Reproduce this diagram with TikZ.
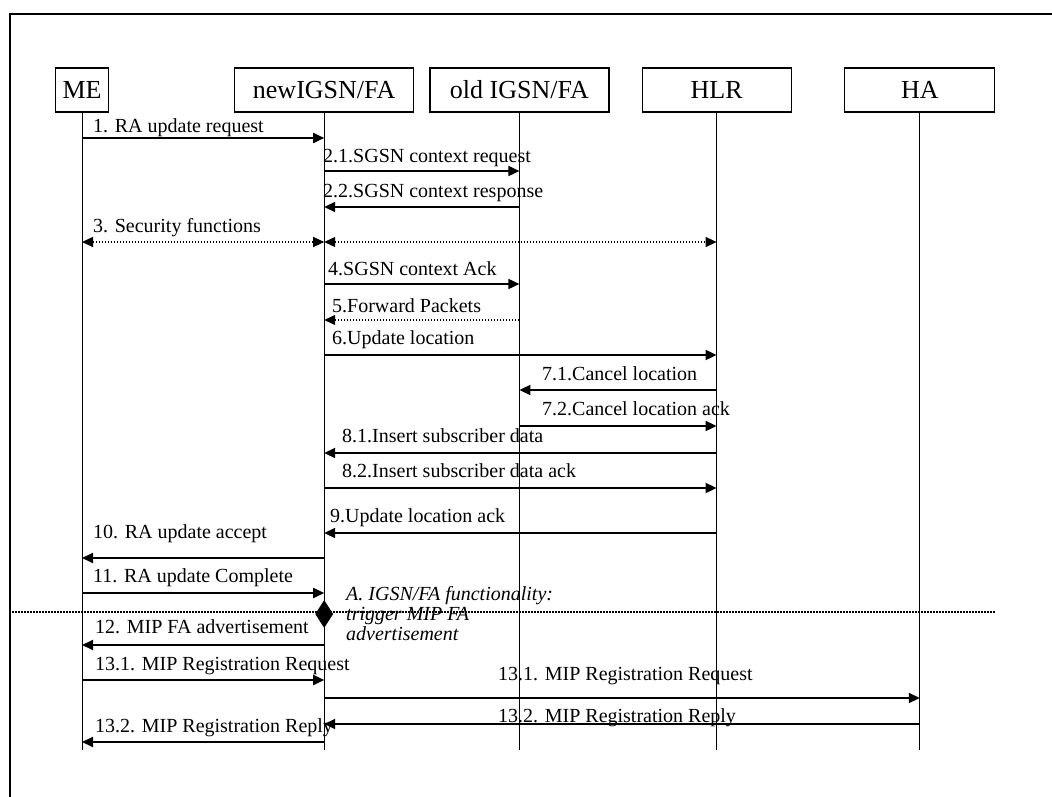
\documentclass[tikz,border=0pt]{standalone}
\usepackage{fontspec}
\setmainfont{Liberation Serif}
\usetikzlibrary{arrows.meta,positioning,shapes.geometric}
\tikzset{
  entity/.style={
    draw=black,
    line width=1.2pt,
    minimum height=44pt,
    inner sep=2pt,
    font=\fontsize{26}{28}\selectfont
  },
  life/.style={line width=0.9pt},
  msg/.style={line width=1.8pt},
  dotmsg/.style={line width=1.2pt, dash pattern=on 1.5pt off 1.5pt},
  lbl/.style={anchor=base west, inner sep=0pt, font=\fontsize{20}{20}\selectfont}
}

\begin{document}
\begin{tikzpicture}[x=1pt, y=-1pt, >={Triangle[length=11pt,width=10pt]}]
  \useasboundingbox (0,0) rectangle (1052,797);
  \draw[line width=1.5pt] (10,797) -- (10,14) -- (1052,14);

  \node[entity, minimum width=53pt] (me) at (82,90) {ME};
  \node[entity, minimum width=179pt, right=125pt of me] (new) {newIGSN/FA};
  \node[entity, minimum width=179pt, right=15pt of new] (old) {old IGSN/FA};
  \node[entity, minimum width=149pt, right=32pt of old] (hlr) {HLR};
  \node[entity, minimum width=150pt, right=52.5pt of hlr] (ha) {HA};
  \foreach \n in {me,new,old,hlr,ha}
    \draw[life] (\n.south) -- (\n |- 0,750);

  \draw[msg,->] (me |- 0,138) -- (new |- 0,138);
  \node[lbl] (m1) at (93,133) {1. RA update request};
  \draw[msg,->] (new |- 0,171) -- (old |- 0,171);
  \node[lbl] (m21) at (323,163) {2.1.SGSN context request};
  \draw[msg,->] (old |- 0,207) -- (new |- 0,207);
  \node[lbl] (m22) at (323,197) {2.2.SGSN context response};
  \draw[dotmsg,<->] (me |- 0,242) -- (new |- 0,242);
  \draw[dotmsg,<->] (new |- 0,242) -- (hlr |- 0,242);
  \node[lbl] (m3) at (93,232) {3. Security functions};
  \draw[msg,->] (new |- 0,284) -- (old |- 0,284);
  \node[lbl] (m4) at (328,275) {4.SGSN context Ack};
  \draw[dotmsg,->] (old |- 0,320) -- (new |- 0,320);
  \node[lbl] (m5) at (332,312) {5.Forward Packets};
  \draw[msg,->] (new |- 0,355) -- (hlr |- 0,355);
  \node[lbl] (m6) at (332,344) {6.Update location};
  \draw[msg,->] (hlr |- 0,390) -- (old |- 0,390);
  \node[lbl] (m71) at (542,380) {7.1.Cancel location};
  \draw[msg,->] (old |- 0,426) -- (hlr |- 0,426);
  \node[lbl] (m72) at (542,415) {7.2.Cancel location ack};
  \draw[msg,->] (hlr |- 0,453) -- (new |- 0,453);
  \node[lbl] (m81) at (342,442) {8.1.Insert subscriber data};
  \draw[msg,->] (new |- 0,488) -- (hlr |- 0,488);
  \node[lbl] (m82) at (342,477) {8.2.Insert subscriber data ack};
  \draw[msg,->] (hlr |- 0,533) -- (new |- 0,533);
  \node[lbl] (m9) at (330,522) {9.Update location ack};
  \draw[msg,->] (new |- 0,558) -- (me |- 0,558);
  \node[lbl] (m10) at (93,538) {10. RA update accept};
  \draw[msg,->] (me |- 0,593) -- (new |- 0,593);
  \node[lbl] (m11) at (93,582) {11. RA update Complete};

  \coordinate (divL) at (12,612);
  \coordinate (divR) at (995,612);
  \draw[dotmsg] (divL) -- (divR);
  \node[diamond, fill=black, inner sep=0pt, minimum width=18pt, minimum height=28pt] (trig) at (new |- 0,614) {};
  \node[lbl, align=left, font=\fontsize{20}{20}\selectfont\itshape] (fa) at (346,640)
    {A. IGSN/FA functionality:\\trigger MIP FA\\advertisement};

  \draw[msg,->] (new |- 0,645) -- (me |- 0,645);
  \node[lbl] (m12) at (95,633) {12. MIP FA advertisement};
  \draw[msg,->] (me |- 0,680) -- (new |- 0,680);
  \node[lbl] (m131) at (95,670) {13.1. MIP Registration Request};
  \draw[msg,->] (new |- 0,698) -- (ha |- 0,698);
  \node[lbl] (m131b) at (498,680) {13.1. MIP Registration Request};
  \draw[msg,->] (ha |- 0,724) -- (new |- 0,724);
  \node[lbl] (m132b) at (498,722) {13.2. MIP Registration Reply};
  \draw[msg,->] (new |- 0,742) -- (me |- 0,742);
  \node[lbl] (m132) at (95,732) {13.2. MIP Registration Reply};
\end{tikzpicture}
\end{document}
